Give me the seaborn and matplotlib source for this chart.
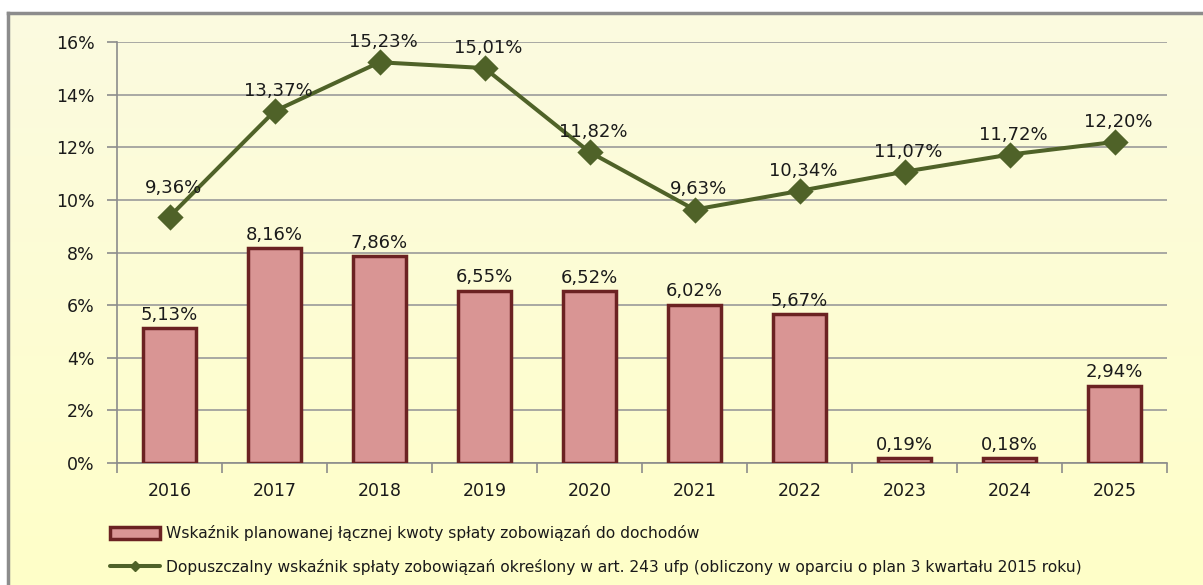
import numpy as np
import pandas as pd
import matplotlib
matplotlib.use("Agg")
import matplotlib.pyplot as plt
import seaborn as sns
from matplotlib.patches import Patch
from matplotlib.lines import Line2D
from matplotlib.colors import LinearSegmentedColormap

years = ["2016", "2017", "2018", "2019", "2020", "2021", "2022", "2023", "2024", "2025"]
bar_values = [5.13, 8.16, 7.86, 6.55, 6.52, 6.02, 5.67, 0.19, 0.18, 2.94]
line_values = [9.36, 13.37, 15.23, 15.01, 11.82, 9.63, 10.34, 11.07, 11.72, 12.20]
y_ticks = [0, 2, 4, 6, 8, 10, 12, 14, 16]
bar_label = "Wskaźnik planowanej łącznej kwoty spłaty zobowiązań do dochodów"
line_label = "Dopuszczalny wskaźnik spłaty zobowiązań określony w art. 243 ufp (obliczony w oparciu o plan 3 kwartału 2015 roku)"

sns.set_theme(style="white")
plt.rcParams['font.family'] = ['DejaVu Sans']

W, H = 1203, 585
fig = plt.figure(figsize=(W / 100, H / 100), dpi=100)
fig.patch.set_facecolor("white")

# background gradient frame
bg = fig.add_axes([8 / W, 0, 1 - 8 / W, 1 - 13 / H])
grad = np.linspace(0, 1, 256).reshape(-1, 1)
cm = LinearSegmentedColormap.from_list("bg", ["#FBFAE0", "#FFFFC8"])
bg.imshow(grad, aspect="auto", cmap=cm, extent=[0, 1, 0, 1], origin="upper")
bg.set_xlim(0, 1); bg.set_ylim(0, 1)
bg.set_xticks([]); bg.set_yticks([])
for s in ["top", "left"]:
    bg.spines[s].set_color("#8C8C8C"); bg.spines[s].set_linewidth(2.5)
for s in ["right", "bottom"]:
    bg.spines[s].set_visible(False)
bg.set_zorder(0)

left, right = 117 / W, 1167 / W
bottom, top = 1 - 463 / H, 1 - 42 / H
ax = fig.add_axes([left, bottom, right - left, top - bottom])
ax.set_zorder(1)
ax.patch.set_alpha(0)

df = pd.DataFrame({"year": years, "bar": bar_values, "line": line_values})
bar_face = "#D99594"
bar_edge = "#6B2222"
line_col = "#4F6228"

sns.barplot(data=df, x="year", y="bar", color=bar_face, edgecolor=bar_edge,
            linewidth=2.5, width=0.5, saturation=1, ax=ax, zorder=3)
sns.pointplot(data=df, x="year", y="line", color=line_col, markers="D",
              markersize=11, linewidth=2.9, ax=ax, zorder=4)

ax.set_xlim(-0.5, 9.5)
ax.set_ylim(0, 16)
ax.set_yticks(y_ticks)
ax.set_yticklabels([f"{t}%" for t in y_ticks], fontsize=12.5, color="#1A1A1A")
ax.yaxis.grid(True, color="#9A9A9A", linewidth=1.2)
ax.set_axisbelow(True)
ax.set_xlabel(""); ax.set_ylabel("")
ax.set_xticks(range(len(years)))
ax.set_xticklabels(years, fontsize=12.5, color="#1A1A1A")
ax.set_xticks(np.arange(-0.5, 10, 1), minor=True)
ax.tick_params(axis="x", which="major", length=0, pad=14)
ax.tick_params(axis="x", which="minor", length=7, color="#8C8C8C", width=1.2, direction="out", bottom=True)
ax.tick_params(axis="y", which="major", length=7, color="#8C8C8C", width=1.2, direction="out", left=True, pad=9)
for s in ["top", "right"]:
    ax.spines[s].set_visible(False)
for s in ["left", "bottom"]:
    ax.spines[s].set_color("#8C8C8C"); ax.spines[s].set_linewidth(1.2)

def fmt(v):
    return f"{v:.2f}".replace(".", ",") + "%"

for i, v in enumerate(bar_values):
    ax.annotate(fmt(v), (i, v), xytext=(0, 3), textcoords="offset points",
                ha="center", va="bottom", fontsize=13, color="#1A1A1A", zorder=6)
for i, v in enumerate(line_values):
    dy = 14 if i == 0 else 8
    ax.annotate(fmt(v), (i, v), xytext=(3, dy), textcoords="offset points",
                ha="center", va="bottom", fontsize=13, color="#1A1A1A", zorder=6)

handles = [
    Patch(facecolor=bar_face, edgecolor=bar_edge, linewidth=2.5),
    Line2D([0], [0], color=line_col, linewidth=2.9, marker="D", markersize=5),
]
leg = fig.legend(handles, [bar_label, line_label], loc="upper left",
                 bbox_to_anchor=(110 / W, 1 - 525 / H), frameon=False, borderpad=0,
                 borderaxespad=0,
                 prop={"family": ["DejaVu Sans"], "size": 11.2},
                 handlelength=3.2, handleheight=0.8, handletextpad=0.4, labelspacing=1.15)
for t in leg.get_texts():
    t.set_color("#1A1A1A")

fig.savefig("out.png", dpi=100, facecolor=fig.get_facecolor())
